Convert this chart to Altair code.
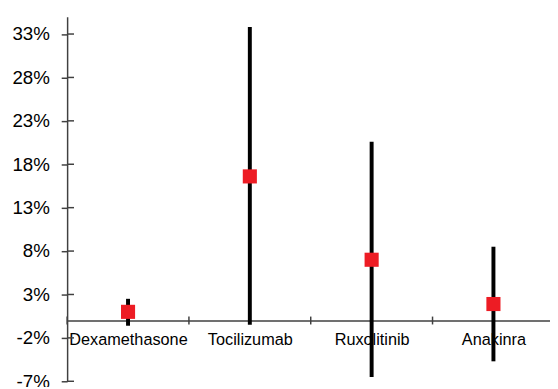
import altair as alt
import pandas as pd

drugs = ["Dexamethasone", "Tocilizumab", "Ruxolitinib", "Anakinra"]
estimate = [1.0, 16.6, 7.0, 1.9]
lower = [-0.6, -0.5, -6.5, -4.7]
upper = [2.5, 33.8, 20.6, 8.5]
y_ticks = [-7, -2, 3, 8, 13, 18, 23, 28, 33]

slots = [i + 0.5 for i in range(len(drugs))]
bounds = [float(i) for i in range(len(drugs))]

df = pd.DataFrame({"drug": drugs, "slot": slots, "est": estimate, "lo": lower, "hi": upper})
ticks_df = pd.DataFrame({"tick": y_ticks})
bounds_df = pd.DataFrame({"b": bounds})

W = 490
STEP = 123.6
H = 370
ydom = [-7, 35]
xdom = [0, W / STEP]
zero_offset = -(H * (0 - ydom[0]) / (ydom[1] - ydom[0]))

names_js = "[" + ",".join("'" + d + "'" for d in drugs) + "]"

xscale = alt.Scale(domain=xdom, nice=False, zero=False)
yscale = alt.Scale(domain=ydom, nice=False, zero=False)

xaxis = alt.Axis(
    title=None,
    orient="bottom",
    offset=zero_offset,
    values=slots,
    labelExpr=names_js + "[floor(datum.value)]",
    ticks=False,
    labelPadding=11,
    labelFontSize=16.5,
    labelAngle=0,
    labelColor="black",
    labelFlush=False,
    labelOverlap=False,
)
yaxis = alt.Axis(
    title=None,
    values=y_ticks,
    labelExpr="datum.value + '%'",
    labelFontSize=19,
    tickSize=6,
    labelPadding=12,
    labelColor="black",
)

bars = alt.Chart(df).mark_rule(color="black", strokeWidth=4).encode(
    x=alt.X("slot:Q", scale=xscale, axis=xaxis),
    y=alt.Y("lo:Q", scale=yscale, axis=yaxis),
    y2="hi:Q",
)

points = alt.Chart(df).mark_square(size=205, color="#ED1C24", opacity=1).encode(
    x=alt.X("slot:Q", scale=xscale),
    y=alt.Y("est:Q", scale=yscale),
)

ytick_right = alt.Chart(ticks_df).mark_rule(color="#404040", strokeWidth=1.5).encode(
    y=alt.Y("tick:Q", scale=yscale),
    x=alt.value(0),
    x2=alt.value(7),
)

xticks = alt.Chart(bounds_df).mark_tick(
    orient="vertical", size=8, thickness=1.5, color="#404040", opacity=1
).encode(
    x=alt.X("b:Q", scale=xscale),
    y=alt.datum(0),
)

chart = (
    alt.layer(bars, points, ytick_right, xticks)
    .properties(
        width=W,
        height=H,
        autosize=alt.AutoSizeParams(type="none"),
        padding={"left": 60, "top": 6, "right": 0, "bottom": 3},
    )
    .configure_view(stroke=None)
    .configure_axis(
        grid=False,
        domainColor="#404040",
        domainWidth=1.5,
        tickColor="#404040",
        tickWidth=1.5,
        labelFont="Liberation Sans",
    )
)

chart.save("out.html", embed_options={"renderer": "svg", "actions": False})
